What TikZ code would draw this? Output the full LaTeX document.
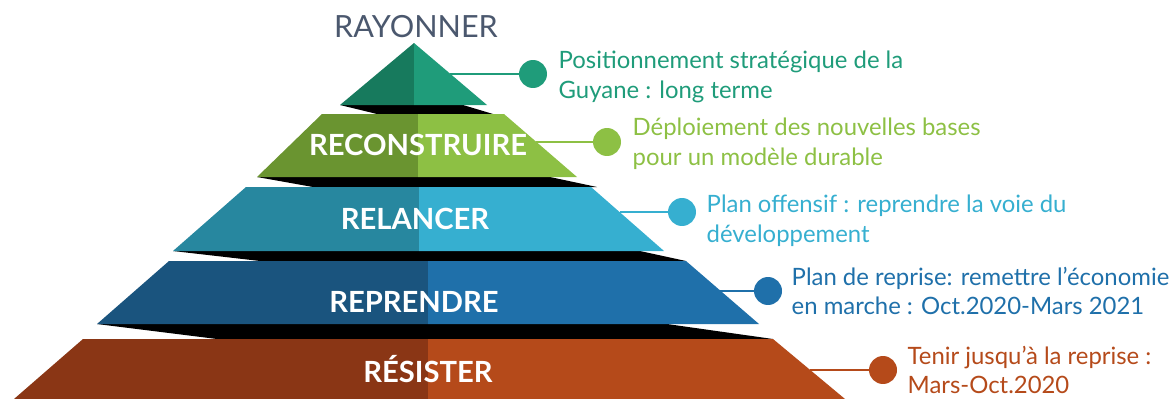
\documentclass[tikz,border=0pt]{standalone}
\usepackage{fontspec}
\setmainfont{Lato}
\usepackage{tikz}
\usetikzlibrary{positioning}

\definecolor{tealD}{HTML}{177A5D}
\definecolor{tealL}{HTML}{1F9C7A}
\definecolor{greenD}{HTML}{6A9430}
\definecolor{greenL}{HTML}{8DC044}
\definecolor{cyanD}{HTML}{27879F}
\definecolor{cyanL}{HTML}{36AFD0}
\definecolor{blueD}{HTML}{1A547E}
\definecolor{blueL}{HTML}{1F70AA}
\definecolor{rustD}{HTML}{8A3615}
\definecolor{rustL}{HTML}{B54A1A}
\definecolor{slate}{HTML}{4B586E}

\tikzset{
    bullet/.style={circle, fill=#1, inner sep=0pt, minimum size=0.56cm},
    link/.style={draw=#1, line width=1.4pt},
    note/.style={text=#1, align=left, inner sep=0pt, anchor=west,
        font=\fontsize{13.6}{17}\selectfont},
    tier/.style={text=white, anchor=base, inner sep=0pt,
        font=\bfseries\fontsize{16.6}{20}\selectfont}
}

\begin{document}
\begin{tikzpicture}[x=0.02cm, y=-0.02cm]
    \useasboundingbox (0,0) rectangle (1171,399);

    % Shadows between the layers
    \fill [black] (340,105) -- (463,105) -- (493,114) -- (377,114) -- cycle;
    \fill [black] (257,177) -- (550,177) -- (597,187) -- (313,187) -- cycle;
    \fill [black] (173,251) -- (640,251) -- (686,261) -- (260,261) -- cycle;
    \fill [black] (97,324)  -- (667,324) -- (773,339) -- (217,339) -- cycle;

    % Layers {rayonner, reconstruire, relancer, reprendre, resister}
    \fill [tealD]  (414,43)  -- (414,105) -- (340,105) -- cycle;
    \fill [tealL]  (414,43)  -- (487,105) -- (414,105) -- cycle;
    \fill [greenD] (322,114) -- (418,114) -- (418,177) -- (257,177) -- cycle;
    \fill [greenL] (418,114) -- (504,114) -- (577,177) -- (418,177) -- cycle;
    \fill [cyanD]  (246,187) -- (419,187) -- (419,251) -- (173,251) -- cycle;
    \fill [cyanL]  (419,187) -- (591,187) -- (664,251) -- (419,251) -- cycle;
    \fill [blueD]  (169,261) -- (428,261) -- (428,324) -- (97,324)  -- cycle;
    \fill [blueL]  (428,261) -- (686,261) -- (759,324) -- (428,324) -- cycle;
    \fill [rustD]  (83,339)  -- (428,339) -- (428,399) -- (14,399)  -- cycle;
    \fill [rustL]  (428,339) -- (773,339) -- (845,399) -- (428,399) -- cycle;

    % Layer names
    \node [anchor=base, inner sep=0pt, text=slate, font=\fontsize{17.4}{20}\selectfont]
                        (t1) at (416,37)  {RAYONNER};
    \node [tier]        (t2) at (418,155) {RECONSTRUIRE};
    \node [tier]        (t3) at (415,229) {RELANCER};
    \node [tier]        (t4) at (414,312) {REPRENDRE};
    \node [tier]        (t5) at (428,382) {RÉSISTER};

    % Bullets and their texts
    \coordinate (e1) at (450,74);
    \coordinate (e2) at (536,142);
    \coordinate (e3) at (620,212);
    \coordinate (e4) at (720,291);
    \coordinate (e5) at (810,370);

    \node [bullet=tealL]  (b1) at (533,74)  {};
    \node [bullet=greenL] (b2) at (607,142) {};
    \node [bullet=cyanL]  (b3) at (682,212) {};
    \node [bullet=blueL]  (b4) at (768,291) {};
    \node [bullet=rustL]  (b5) at (883,370) {};

    \node [note=tealL]  (n1) [right=0.22cm of b1, yshift=-1.5pt] {Positionnement stratégique de la\\Guyane : long terme};
    \node [note=greenL] (n2) [right=0.22cm of b2, yshift=-1pt] {Déploiement des nouvelles bases\\pour un modèle durable};
    \node [note=cyanL]  (n3) [right=0.2cm of b3, yshift=-5pt] {Plan offensif : reprendre la voie du\\développement};
    \node [note=blueL]  (n4) [right=0.18cm of b4] {Plan de reprise: remettre l’économie\\en marche : Oct.2020-Mars 2021};
    \node [note=rustL]  (n5) [right=0.2cm of b5] {Tenir jusqu’à la reprise :\\Mars-Oct.2020};

    % Connectors
    \path [link=tealL]  (e1) edge (b1);
    \path [link=greenL] (e2) edge (b2);
    \path [link=cyanL]  (e3) edge (b3);
    \path [link=blueL]  (e4) edge (b4);
    \path [link=rustL]  (e5) edge (b5);

\end{tikzpicture}
\end{document}
